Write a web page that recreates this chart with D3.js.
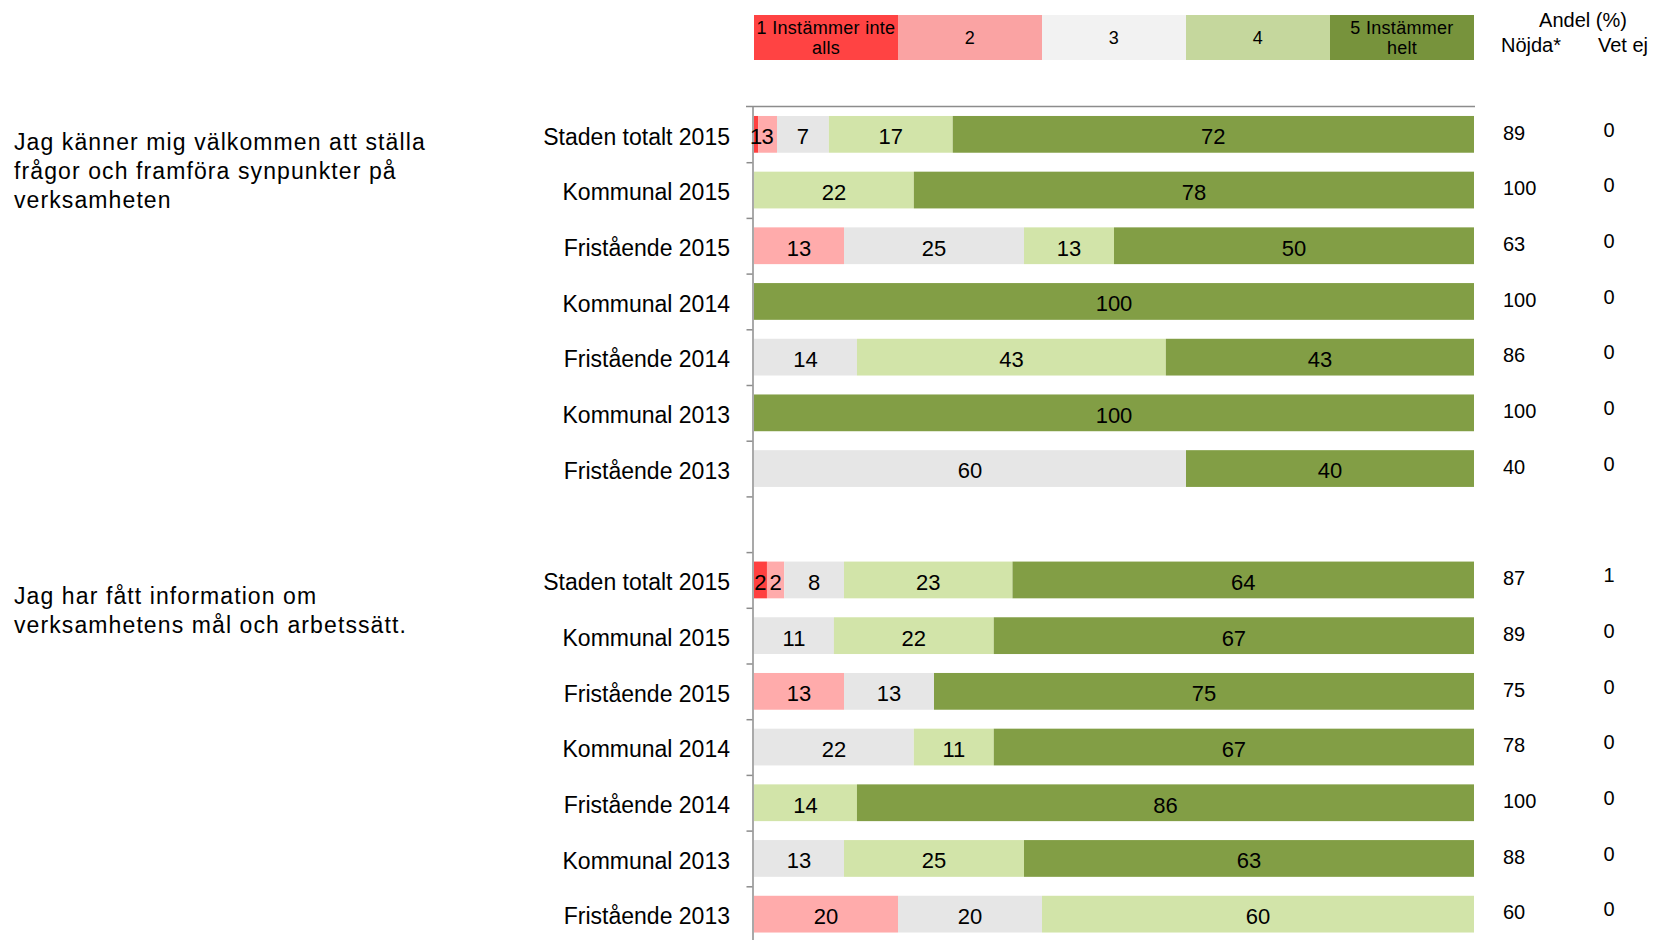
<!DOCTYPE html>
<html>
<head>
<meta charset="utf-8">
<script src="https://cdn.jsdelivr.net/npm/d3@7"></script>
<style>
  body { margin: 0; background: #fff; }
  svg { display: block; font-family: "Liberation Sans", Arial, sans-serif; }
</style>
</head>
<body>
<div id="chart"></div>
<script>
// answer levels, legend texts and colours
const levels = ["v1", "v2", "v3", "v4", "v5"];
const legendLabels = [["1 Instämmer inte", "alls"], ["2"], ["3"], ["4"], ["5  Instämmer", "helt"]];
const barColors = ["#ff4040", "#ffabab", "#e6e6e6", "#d2e4a9", "#829e45"];
const legendColors = ["#ff4343", "#faa3a3", "#f2f2f2", "#c5d79d", "#77933c"];

const questions = [
    ["Jag känner mig välkommen att ställa", "frågor och framföra synpunkter på", "verksamheten"],
    ["Jag har fått information om", "verksamhetens mål och arbetssätt."]
];
const rowLabels = ["Staden totalt 2015", "Kommunal 2015", "Fristående 2015", "Kommunal 2014",
    "Fristående 2014", "Kommunal 2013", "Fristående 2013"];

// question 1, share (%) per answer level
const q1v1 = [0.6, 0, 0, 0, 0, 0, 0];
const q1v2 = [2.6, 0, 12.5, 0, 0, 0, 0];
const q1v3 = [7.2, 0, 25, 0, 14.3, 0, 60];
const q1v4 = [17.2, 22.2, 12.5, 0, 42.9, 0, 0];
const q1v5 = [72.4, 77.8, 50, 100, 42.8, 100, 40];
const q1Nojda = [89, 100, 63, 100, 86, 100, 40];
const q1VetEj = [0, 0, 0, 0, 0, 0, 0];

// question 2
const q2v1 = [1.8, 0, 0, 0, 0, 0, 0];
const q2v2 = [2.4, 0, 12.5, 0, 0, 0, 20];
const q2v3 = [8.3, 11.1, 12.5, 22.2, 0, 12.5, 20];
const q2v4 = [23.4, 22.2, 0, 11.1, 14.3, 25, 60];
const q2v5 = [64.1, 66.7, 75, 66.7, 85.7, 62.5, 0];
const q2Nojda = [87, 89, 75, 78, 100, 88, 60];
const q2VetEj = [1, 0, 0, 0, 0, 0, 0];

const width = 1654;
const height = 940;
const plot = { left: 754, right: 1474, top: 106.5, bottom: 942 };
const nSlots = 15;
const questionBaseline = [150, 604];

const build = (vals, nojda, vetej, qi) => rowLabels.map((name, i) => ({
    name, slot: qi * 8 + i, nojda: nojda[i], vetej: vetej[i],
    v1: vals[0][i], v2: vals[1][i], v3: vals[2][i], v4: vals[3][i], v5: vals[4][i]
}));

const data = [
    build([q1v1, q1v2, q1v3, q1v4, q1v5], q1Nojda, q1VetEj, 0),
    build([q2v1, q2v2, q2v3, q2v4, q2v5], q2Nojda, q2VetEj, 1)
];
const rows = data.flat();

const svg = d3.select("#chart").append("svg")
    .attr("width", width)
    .attr("height", height);

const x = d3.scaleLinear().domain([0, 100]).range([plot.left, plot.right]);
const y = d3.scaleBand()
    .domain(d3.range(nSlots))
    .range([plot.top, plot.bottom])
    .paddingInner(0.34)
    .paddingOuter(0.17);
const yEdge = d3.scaleLinear().domain([0, nSlots]).range([plot.top, plot.bottom]);

// legend
const legW = (plot.right - plot.left) / 5;
const leg = svg.append("g");
leg.selectAll("rect")
    .data(levels)
    .join("rect")
    .attr("x", (d, i) => plot.left + i * legW)
    .attr("y", 15)
    .attr("width", legW)
    .attr("height", 45)
    .attr("fill", (d, i) => legendColors[i]);
leg.selectAll("text")
    .data(legendLabels)
    .join("text")
    .attr("x", (d, i) => plot.left + i * legW + legW / 2)
    .attr("y", d => d.length > 1 ? 34 : 44)
    .attr("text-anchor", "middle")
    .attr("font-size", 18)
    .attr("letter-spacing", 0.3)
    .attr("fill", "#000")
    .selectAll("tspan")
    .data(d => d)
    .join("tspan")
    .attr("x", function () { return d3.select(this.parentNode).attr("x"); })
    .attr("dy", (d, i) => i ? 20 : 0)
    .text(d => d);

// right header
const hdr = svg.append("g").attr("font-size", 20).attr("fill", "#000");
hdr.append("text").attr("x", 1583).attr("y", 27).attr("text-anchor", "middle").text("Andel (%)");
hdr.append("text").attr("x", 1531).attr("y", 52).attr("text-anchor", "middle").text("Nöjda*");
hdr.append("text").attr("x", 1623).attr("y", 52).attr("text-anchor", "middle").text("Vet ej");

// axis
svg.append("line")
    .attr("x1", 746).attr("x2", plot.right + 1)
    .attr("y1", plot.top).attr("y2", plot.top)
    .attr("stroke", "#8c8c8c").attr("stroke-width", 1.5);
const gy = svg.append("g")
    .attr("transform", `translate(${plot.left - 1.5},0)`)
    .call(d3.axisLeft(yEdge).tickValues(d3.range(1, nSlots)).tickFormat("").tickSize(6).tickSizeOuter(0));
gy.selectAll("path, line").attr("stroke", "#8c8c8c").attr("stroke-width", 1.5);

// bars
const stack = d3.stack().keys(levels);
const series = stack(rows);

const gBars = svg.append("g");
series.forEach((s, si) => {
    gBars.append("g")
        .attr("fill", barColors[si])
        .selectAll("rect")
        .data(s.filter(d => d[1] - d[0] > 0))
        .join("rect")
        .attr("x", d => x(d[0]))
        .attr("y", d => y(d.data.slot))
        .attr("width", d => x(d[1]) - x(d[0]))
        .attr("height", y.bandwidth());
});
const gLab = svg.append("g").attr("font-size", 22).attr("fill", "#000").attr("text-anchor", "middle");
series.forEach(s => {
    gLab.append("g")
        .selectAll("text")
        .data(s.filter(d => d[1] - d[0] > 0))
        .join("text")
        .attr("x", d => (x(d[0]) + x(d[1])) / 2)
        .attr("y", d => y(d.data.slot) + y.bandwidth() / 2 + 2)
        .attr("dy", "0.36em")
        .text(d => (d[1] - d[0]).toFixed(0));
});

// row labels
svg.append("g")
    .attr("font-size", 23)
    .attr("text-anchor", "end")
    .selectAll("text")
    .data(rows)
    .join("text")
    .attr("x", 730)
    .attr("y", d => y(d.slot) + y.bandwidth() / 2 + 2)
    .attr("dy", "0.36em")
    .text(d => d.name);

// Nöjda and Vet ej columns
const gNum = svg.append("g").attr("font-size", 20).attr("fill", "#000");
gNum.selectAll(".nojda")
    .data(rows)
    .join("text")
    .attr("class", "nojda")
    .attr("x", 1503)
    .attr("y", d => y(d.slot) + y.bandwidth() / 2 - 2)
    .attr("dy", "0.36em")
    .text(d => d.nojda);
gNum.selectAll(".vetej")
    .data(rows)
    .join("text")
    .attr("class", "vetej")
    .attr("x", 1609)
    .attr("text-anchor", "middle")
    .attr("y", d => y(d.slot) + y.bandwidth() / 2 - 5)
    .attr("dy", "0.36em")
    .text(d => d.vetej);

// question texts
questions.forEach((lines, qi) => {
    svg.append("text")
        .attr("font-size", 23)
        .attr("letter-spacing", 1.1)
        .selectAll("tspan")
        .data(lines)
        .join("tspan")
        .attr("x", 14)
        .attr("y", (d, i) => questionBaseline[qi] + i * 29)
        .text(d => d);
});
</script>
</body>
</html>
